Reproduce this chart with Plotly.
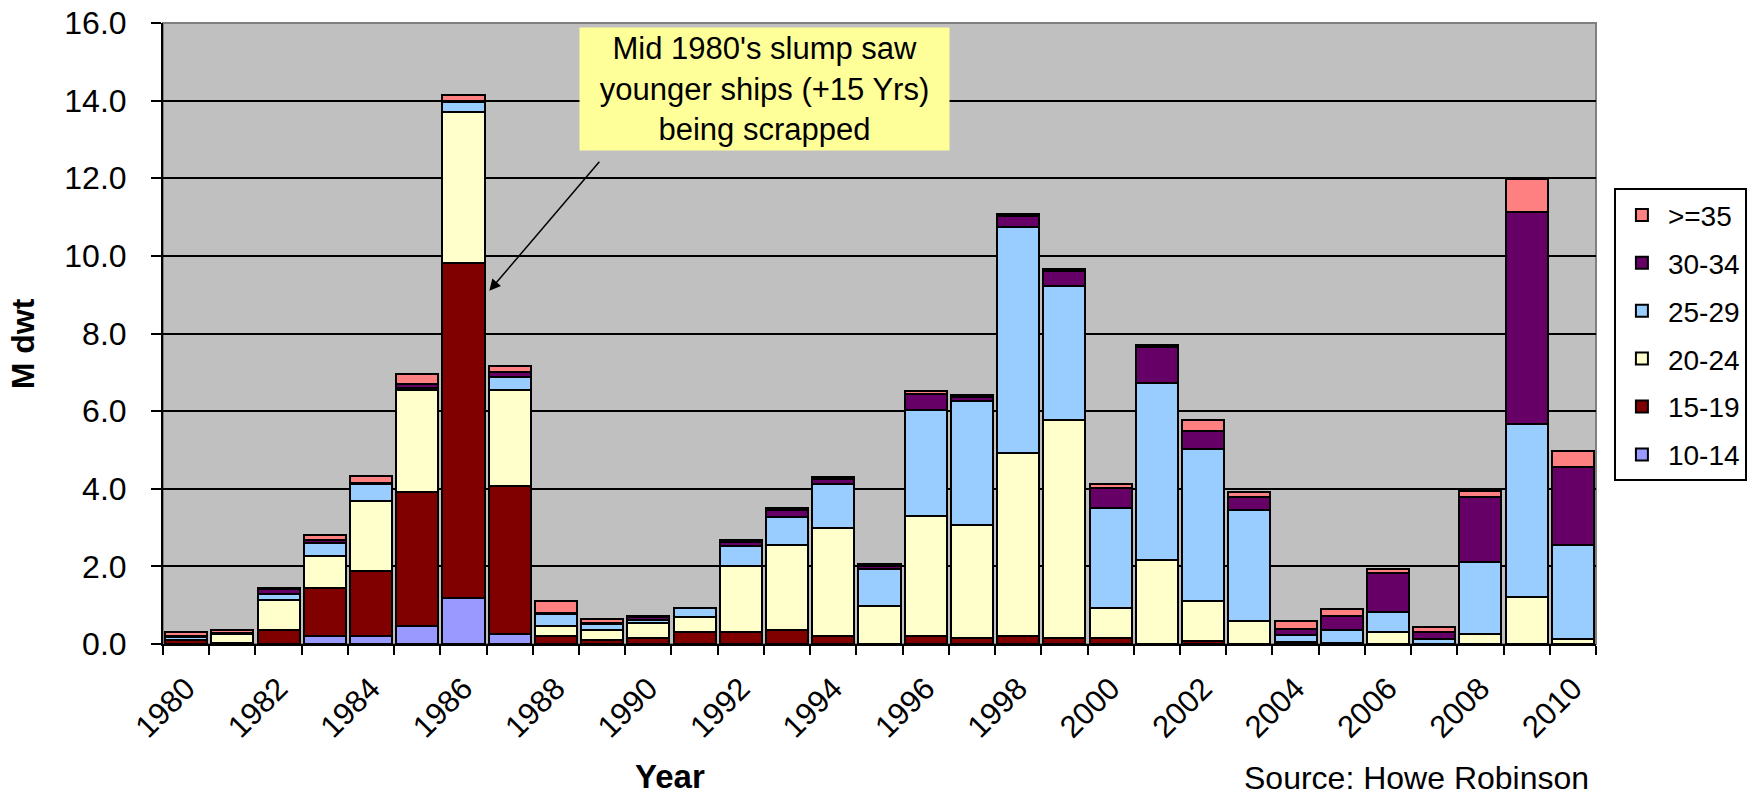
import plotly.graph_objects as go

# Ship demolition by age band, million dwt per year
years = [1980, 1981, 1982, 1983, 1984, 1985, 1986, 1987, 1988, 1989,
         1990, 1991, 1992, 1993, 1994, 1995, 1996, 1997, 1998, 1999,
         2000, 2001, 2002, 2003, 2004, 2005, 2006, 2007, 2008, 2009, 2010]

age_10_14 = [0, 0, 0, 0.20, 0.20, 0.47, 1.18, 0.26, 0, 0,
             0, 0, 0, 0, 0, 0, 0, 0, 0, 0,
             0, 0, 0, 0, 0, 0, 0, 0, 0, 0, 0]
age_15_19 = [0.10, 0.03, 0.37, 1.24, 1.69, 3.44, 8.63, 3.81, 0.20, 0.10,
             0.15, 0.30, 0.30, 0.36, 0.20, 0, 0.21, 0.15, 0.20, 0.15,
             0.15, 0, 0.09, 0, 0.04, 0, 0, 0, 0, 0, 0]
age_20_24 = [0, 0.22, 0.77, 0.84, 1.79, 2.64, 3.89, 2.48, 0.27, 0.26,
             0.38, 0.40, 1.70, 2.19, 2.80, 0.97, 3.08, 2.91, 4.71, 5.62,
             0.78, 2.17, 1.01, 0.58, 0, 0.03, 0.32, 0, 0.26, 1.22, 0.13]
age_25_29 = [0.07, 0.02, 0.15, 0.32, 0.45, 0.05, 0.27, 0.32, 0.30, 0.16,
             0.10, 0.24, 0.53, 0.73, 1.12, 0.96, 2.74, 3.19, 5.84, 3.46,
             2.57, 4.55, 3.92, 2.87, 0.20, 0.34, 0.50, 0.13, 1.84, 4.46, 2.42]
age_30_34 = [0.03, 0.01, 0.12, 0.09, 0.02, 0.10, 0.03, 0.13, 0.02, 0.02,
             0.06, 0, 0.10, 0.17, 0.12, 0.08, 0.42, 0.12, 0.28, 0.38,
             0.52, 0.94, 0.46, 0.34, 0.14, 0.35, 1.00, 0.19, 1.69, 5.46, 2.02]
age_35_plus = [0.10, 0.08, 0.03, 0.11, 0.17, 0.25, 0.15, 0.17, 0.31, 0.10,
               0.02, 0, 0.05, 0.05, 0.07, 0.05, 0.06, 0.05, 0.05, 0.05,
               0.10, 0.05, 0.29, 0.12, 0.22, 0.19, 0.12, 0.11, 0.16, 0.84, 0.39]

label_years = [1980, 1982, 1984, 1986, 1988, 1990, 1992, 1994, 1996, 1998,
               2000, 2002, 2004, 2006, 2008, 2010]

# stacking order bottom -> top; legend lists the oldest band first
series = [
    ("10-14", age_10_14, "#9999FF"),
    ("15-19", age_15_19, "#800000"),
    ("20-24", age_20_24, "#FFFFCC"),
    ("25-29", age_25_29, "#99CCFF"),
    ("30-34", age_30_34, "#660066"),
    (">=35", age_35_plus, "#FF8080"),
]

FONT = "Liberation Sans, Arial, sans-serif"

fig = go.Figure()
for i, (name, vals, color) in enumerate(series):
    fig.add_trace(go.Bar(
        x=years,
        y=[v if v else None for v in vals],
        name=name,
        legendgroup=name,
        legendrank=len(series) - i,
        marker=dict(color=color, line=dict(color="black", width=2)),
    ))

boundaries = [y - 0.5 for y in years] + [years[-1] + 0.5]

fig.update_layout(
    width=1759, height=798,
    margin=dict(l=163, r=160, t=23, b=154, pad=0),
    paper_bgcolor="white",
    plot_bgcolor="#C0C0C0",
    barmode="stack",
    bargap=0.09,
    font=dict(family=FONT, size=31, color="black"),
    xaxis=dict(
        automargin=False,
        range=[years[0] - 0.5, years[-1] + 0.5],
        tickmode="array",
        tickvals=label_years,
        ticktext=[str(y) for y in label_years],
        tickangle=-45,
        ticks="",
        ticklabelstandoff=12,
        showgrid=False,
        zeroline=False,
        showline=True, linecolor="black", linewidth=2,
        minor=dict(tickmode="array", tickvals=boundaries, ticks="outside",
                   ticklen=9, tickwidth=2, tickcolor="black", showgrid=False),
    ),
    yaxis=dict(
        automargin=False,
        range=[0, 16],
        tick0=0, dtick=2,
        tickformat=".1f",
        tickfont=dict(size=32),
        ticks="outside", ticklen=10, tickwidth=2, tickcolor="black",
        ticklabelstandoff=18,
        showgrid=True, gridcolor="black", gridwidth=2,
        zeroline=False,
        showline=True, linecolor="black", linewidth=2,
    ),
    legend=dict(
        x=1.0125, y=0.734, xanchor="left", yanchor="top",
        bgcolor="white", bordercolor="black", borderwidth=2,
        font=dict(family=FONT, size=28),
        traceorder="grouped",
        tracegroupgap=8.5,
        itemwidth=42,
    ),
    showlegend=True,
)

# gray frame on the plot area
fig.add_shape(type="rect", xref="paper", yref="paper", x0=0, x1=1, y0=0, y1=1,
              line=dict(color="#808080", width=2), layer="between")

# callout box
fig.add_annotation(
    x=1992.52, y=14.29, xref="x", yref="y",
    text="Mid 1980's slump saw<br>younger ships (+15 Yrs)<br>being scrapped",
    showarrow=False, bgcolor="#FFFF99", width=369, height=122,
    borderpad=0, align="center",
    font=dict(family=FONT, size=31, color="black"),
)
# callout arrow
fig.add_annotation(
    x=1986.56, y=9.1, xref="x", yref="y",
    text=" ", showarrow=True, ax=116, ay=-136,
    arrowhead=2, arrowsize=1.5, arrowwidth=1.5, arrowcolor="black",
)
# axis titles
fig.add_annotation(
    x=0.354, y=-0.214, xref="paper", yref="paper",
    text="<b>Year</b>", showarrow=False, xanchor="center", yanchor="middle",
    font=dict(family=FONT, size=33, color="black"),
)
fig.add_annotation(
    x=-0.0975, y=0.483, xref="paper", yref="paper",
    text="<b>M dwt</b>", showarrow=False, textangle=-90,
    xanchor="center", yanchor="middle",
    font=dict(family=FONT, size=32, color="black"),
)
# source note
fig.add_annotation(
    x=0.753, y=-0.2475, xref="paper", yref="paper",
    text="Source: Howe Robinson", showarrow=False,
    xanchor="left", yanchor="bottom",
    font=dict(family=FONT, size=32, color="black"),
)

fig.write_html("out.html")
